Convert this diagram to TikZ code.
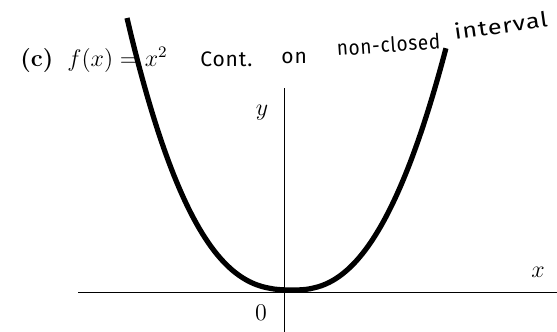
\documentclass[tikz,border=0pt]{standalone}
\usepackage{fontspec}
\newfontfamily\handfont{Fira Sans}[LetterSpace=4]
\usetikzlibrary{positioning}

\begin{document}
\begin{tikzpicture}[x=0.5pt,y=-0.5pt,every node/.style={inner sep=0pt}]
\tikzstyle{axis}=[draw,line width=0.5pt]
\tikzstyle{curve}=[draw,line width=2.6pt,line join=round]
\tikzstyle{hand}=[font=\handfont\fontsize{10.5}{12}\selectfont,anchor=base west]
\tikzstyle{lab}=[font=\large]
\useasboundingbox (0,0) rectangle (557,332);

\node[lab,anchor=base west](title) at (20,66){\textbf{(c)}\hspace{7pt}$f(x)=x^2$};

\node[hand](cont) at (200,66){Cont.};
\node[hand](on) at (281,63){on};
\node[hand,rotate=4,xscale=0.9](nonclosed) at (337,56){non-closed};
\node[hand,rotate=8,xscale=1.2](interval) at (455,40){interval};

\coordinate (xl) at (78,292);
\coordinate (xr) at (557,292);
\coordinate (yb) at (284,332);
\coordinate (yt) at (284,88);
\path[axis](xl)--(xr);
\path[axis](yb)--(yt);

\node[lab](ylab) at (262,113){$y$};
\node[lab](xlab) at (538,272){$x$};
\node[lab](zero) at (261,313){$0$};

% left branch, then right branch
\path[curve] plot[smooth,domain=1:0.01,samples=40] ({293-166*\x},{290-272*\x^2.6})
 -- plot[smooth,domain=0.01:1,samples=40] ({293+153*\x},{290-242*\x^2.4});
\end{tikzpicture}
\end{document}
